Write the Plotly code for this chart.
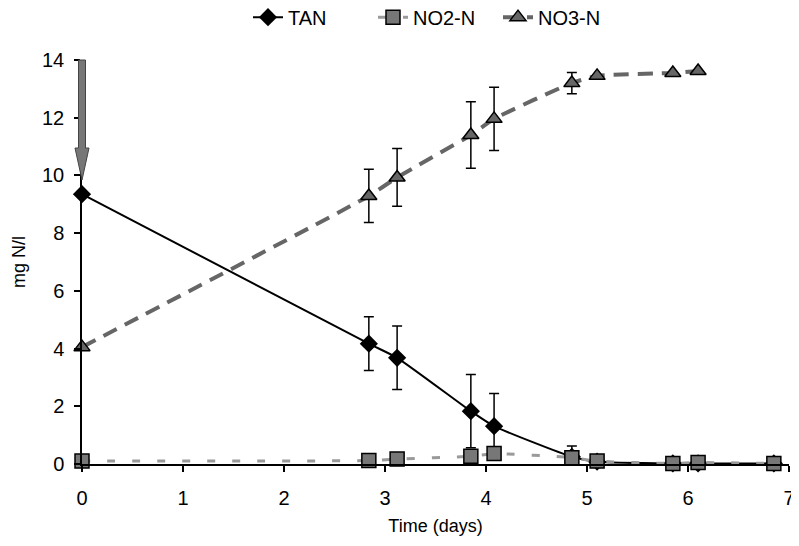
import plotly.graph_objects as go

# Data
tan_x = [0, 2.84, 3.12, 3.85, 4.08, 4.85, 5.1, 5.85, 6.1, 6.85]
tan_y = [9.35, 4.17, 3.68, 1.83, 1.31, 0.25, 0.08, 0.02, 0.02, 0.02]
tan_err = [0, 0.93, 1.1, 1.27, 1.13, 0.37, 0, 0, 0, 0]

no2_x = [0, 2.84, 3.12, 3.85, 4.08, 4.85, 5.1, 5.85, 6.1, 6.85]
no2_y = [0.1, 0.12, 0.17, 0.27, 0.36, 0.22, 0.1, 0.02, 0.05, 0.02]

no3_x = [0, 2.84, 3.12, 3.85, 4.08, 4.85, 5.1, 5.85, 6.1]
no3_y = [4.05, 9.29, 9.93, 11.4, 11.96, 13.2, 13.45, 13.55, 13.62]
no3_err = [0, 0.92, 1.0, 1.15, 1.1, 0.37, 0, 0, 0]

x_ticks = [0, 1, 2, 3, 4, 5, 6, 7]
y_ticks = [0, 2, 4, 6, 8, 10, 12, 14]

FONT = "Arial, Liberation Sans, sans-serif"

fig = go.Figure()

fig.add_trace(go.Scatter(
    x=tan_x, y=tan_y, name="TAN", mode="lines+markers",
    line=dict(color="black", width=2, shape="spline", smoothing=0.5),
    marker=dict(symbol="diamond", size=14, color="black"),
    error_y=dict(type="data", array=tan_err, visible=True, color="black",
                 thickness=1.5, width=5),
    cliponaxis=False,
))
fig.add_trace(go.Scatter(
    x=no2_x, y=no2_y, name="NO2-N", mode="lines+markers",
    line=dict(color="#9a9a9a", width=3, dash="8px,17px", shape="spline", smoothing=0.5),
    marker=dict(symbol="square", size=14, color="#777777",
                line=dict(color="black", width=1.5)),
    cliponaxis=False,
))
fig.add_trace(go.Scatter(
    x=no3_x, y=no3_y, name="NO3-N", mode="lines+markers",
    line=dict(color="#666666", width=4, dash="15px,9px", shape="spline", smoothing=0.5),
    marker=dict(symbol="triangle-up", size=14, color="#666666",
                line=dict(color="black", width=1.5)),
    error_y=dict(type="data", array=no3_err, visible=True, color="black",
                 thickness=1.5, width=5),
    cliponaxis=False,
))

# arrow marking the dosing at t=0 (top-left corner of the plot area)
fig.add_shape(
    type="path", xref="paper", yref="paper", xsizemode="pixel", ysizemode="pixel",
    xanchor=0, yanchor=1,
    path="M-3.5,0 L3.5,0 L3.5,-88 L7,-88 L0,-120 L-7,-88 L-3.5,-88 Z",
    fillcolor="#777777", line=dict(color="#444444", width=1), layer="above",
)

# the page body has an 8px margin, so the figure is sized to fit the window
fig.update_layout(
    width=791, height=538,
    margin=dict(l=74, r=10, t=52, b=82, autoexpand=False),
    paper_bgcolor="white", plot_bgcolor="white",
    font=dict(family=FONT, size=20, color="black"),
    showlegend=True,
    legend=dict(orientation="h", x=0.5, xanchor="center",
                yref="container", y=0.983, yanchor="middle",
                entrywidth=80, entrywidthmode="pixels",
                font=dict(size=20), bgcolor="rgba(0,0,0,0)"),
    xaxis=dict(range=[0, 7], tickvals=x_ticks, showgrid=False, zeroline=False,
               showline=True, linecolor="black", linewidth=1.5,
               ticks="outside", ticklen=6, tickcolor="black", tickwidth=1.5,
               ticklabelstandoff=9, automargin=False,
               title=dict(text="Time (days)", font=dict(size=18), standoff=12)),
    yaxis=dict(range=[0, 14], tickvals=y_ticks, showgrid=False, zeroline=False,
               showline=True, linecolor="black", linewidth=1.5,
               ticks="outside", ticklen=6, tickcolor="black", tickwidth=1.5,
               ticklabelstandoff=6, automargin=False,
               title=dict(text="mg N/l", font=dict(size=18), standoff=12)),
)

fig.write_html("out.html")
